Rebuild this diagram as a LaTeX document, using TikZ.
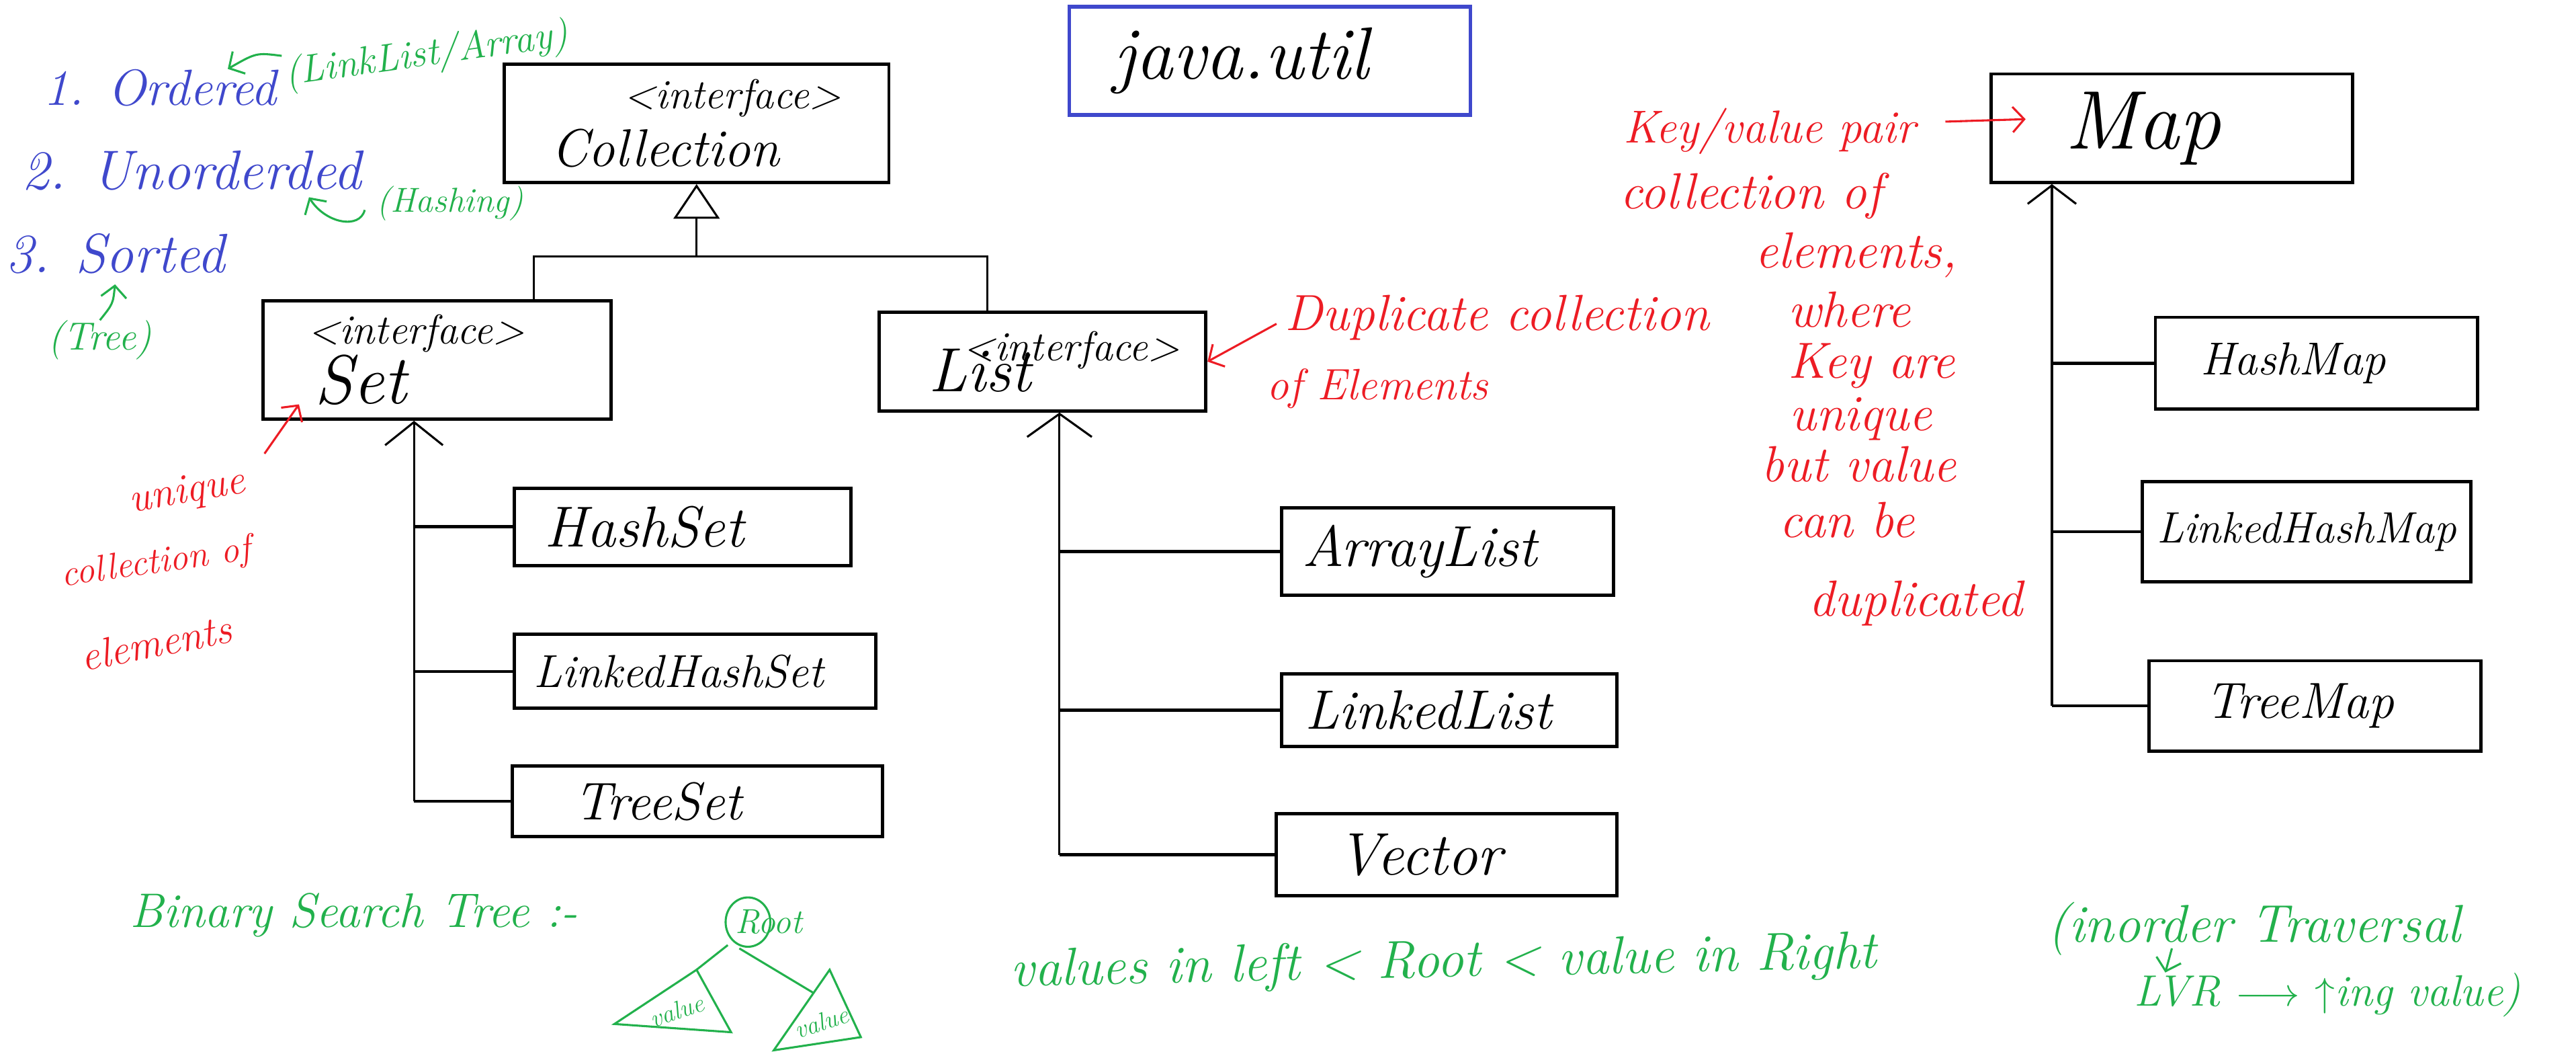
\documentclass[tikz,border=0pt]{standalone}
\usetikzlibrary{arrows.meta}
\definecolor{inkblue}{HTML}{3F48CC}
\definecolor{inkgreen}{HTML}{22B14C}
\definecolor{inkred}{HTML}{ED1C24}
\newcommand{\hw}[1]{\fontsize{#1}{#1}\selectfont\itshape}
\begin{document}
\begin{tikzpicture}[x=0.025cm, y=-0.025cm,
  box/.style={draw, line width=1.4pt, inner sep=0pt, align=center, font=\hw{23}},
  inherit/.style={line width=0.9pt, -{Triangle[open, length=15pt, width=20pt]}},
  rail/.style={line width=0.9pt},
  stub/.style={line width=1.3pt},
  note/.style={line width=0.9pt, -{Straight Barb[length=5pt, width=11pt]}},
  gtree/.style={inkgreen, line width=0.9pt},
  txt/.style={inner sep=0pt, anchor=base west}]
\useasboundingbox (0,0) rectangle (1568,641);

\node  (14)[box, draw=inkblue, line width=1.6pt, minimum width=6.1cm, minimum height=1.65cm, font=\hw{32}] at (773,37) {java.util\hspace*{25pt}};
\node  (1)[box, minimum width=5.85cm, minimum height=1.8cm] at (424,75) {{\hw{18}\hspace*{31pt}<interface>}\\[2pt] Collection\hspace*{27pt}};
\node  (2)[box, minimum width=5.3cm, minimum height=1.8cm, font=\hw{30}] at (266,219) {{\hw{18}<interface>\hspace*{18pt}}\\[-4pt] Set\hspace*{66pt}};
\node  (3)[box, minimum width=4.975cm, minimum height=1.5cm, font=\hw{27}] at (634.5,220) {{\hw{18}\hspace*{25pt}<interface>}\\[-13.5pt] List\hspace*{54pt}};
\node  (4)[box, minimum width=5.5cm, minimum height=1.65cm, font=\hw{36}] at (1322,78) {Map\hspace*{25pt}};
\node  (5)[box, minimum width=5.125cm, minimum height=1.175cm, font=\hw{25}] at (415.5,320.5) {HashSet\hspace*{33pt}};
\node  (6)[box, minimum width=5.5cm, minimum height=1.125cm, font=\hw{20}] at (423,408.5) {LinkedHashSet\hspace*{14pt}};
\node  (7)[box, minimum width=5.625cm, minimum height=1.075cm] at (424.5,487.5) {TreeSet\hspace*{34pt}};
\node  (8)[box, minimum width=5.05cm, minimum height=1.325cm, font=\hw{25}] at (881,335.5) {ArrayList\hspace*{24pt}};
\node  (9)[box, minimum width=5.1cm, minimum height=1.1cm, font=\hw{24}] at (882,432) {LinkedList\hspace*{18pt}};
\node  (10)[box, minimum width=5.175cm, minimum height=1.25cm, font=\hw{26}] at (880.5,520) {Vector\hspace*{23pt}};
\node  (11)[box, minimum width=4.9cm, minimum height=1.4cm, font=\hw{20}] at (1410,221) {HashMap\hspace*{20pt}};
\node  (12)[box, minimum width=5cm, minimum height=1.525cm, font=\hw{19}] at (1404,323.5) {LinkedHashMap};
\node  (13)[box, minimum width=5.05cm, minimum height=1.375cm, font=\hw{22}] at (1409,429.5) {TreeMap\hspace*{13pt}};

\coordinate (fork) at ([yshift=-1.1cm]1.south);
\draw[inherit] (fork) -- (1.south);
\draw[rail] ([xshift=1.475cm]2.north) |- (fork) -| ([xshift=-0.84cm]3.north);

\coordinate (sr) at ([xshift=-0.35cm]2.south);
\draw[rail, -{Straight Barb[length=10pt, width=25pt]}] (sr |- 7.west) -- (sr);
\draw[stub] (sr |- 5.west) -- (5.west);
\draw[stub] (sr |- 6.west) -- (6.west);
\draw[stub] (sr |- 7.west) -- (7.west);

\coordinate (lr) at ([xshift=0.26cm]3.south);
\draw[rail, -{Straight Barb[length=10pt, width=28pt]}] (lr |- 10.west) -- (lr);
\draw[stub] (lr |- 8.west) -- (8.west);
\draw[stub] (lr |- 9.west) -- (9.west);
\draw[stub] (lr |- 10.west) -- (10.west);

\coordinate (mr) at ([xshift=-1.825cm]4.south);
\draw[rail, -{Straight Barb[length=8pt, width=21pt]}] (mr |- 13.west) -- (mr);
\draw[stub] (mr |- 11.west) -- (11.west);
\draw[stub] (mr |- 12.west) -- (12.west);
\draw[stub] (mr |- 13.west) -- (13.west);

\node  (o1)[txt, font=\hw{22}, text=inkblue] at (26,64) {1. Ordered};
\node  (o2)[txt, font=\hw{24}, text=inkblue] at (13,115) {2. Unorderded};
\node  (o3)[txt, font=\hw{24}, text=inkblue] at (3,166) {3. Sorted};
\node  (g1)[txt, font=\hw{17}, text=inkgreen, rotate=8] at (174,52) {(LinkList/Array)};
\node  (g2)[txt, font=\hw{15}, text=inkgreen] at (229,129) {(Hashing)};
\node  (g3)[txt, font=\hw{17}, text=inkgreen] at (29,213) {(Tree)};
\draw[note, inkgreen] (g1.north west) .. controls (156,32) .. ([xshift=-0.75cm]o1.north east);
\draw[note, inkgreen] ([shift={(-7,4)}]g2.west) .. controls +(-3,12) and +(10,16) .. ([xshift=-0.8cm, yshift=-0.1cm]o2.south east);
\draw[note, inkgreen] (g3.north) .. controls +(8,-10) .. ([yshift=-0.15cm]o3.south);

\node  (u1)[font=\hw{18}, text=inkred, rotate=10, inner sep=0pt] at (114,300) {unique};
\node  (u2)[font=\hw{16}, text=inkred, rotate=8, inner sep=0pt] at (95,343) {collection of};
\node  (u3)[font=\hw{18}, text=inkred, rotate=11, inner sep=0pt] at (95,391) {elements};
\draw[note, inkred] ([shift={(47,-24)}]u1.center) -- ([shift={(23,-10)}]2.south west);

\node  (d1)[txt, font=\hw{22}, text=inkred] at (782,201) {Duplicate collection};
\node  (d2)[txt, font=\hw{19}, text=inkred] at (771,243) {of Elements};
\draw[note, inkred] ([shift={(-5,-4)}]d1.base west) -- (3.east);

\node  (k1)[txt, font=\hw{20}, text=inkred] at (988,87) {Key/value pair};
\node  (k2)[txt, font=\hw{22}, text=inkred] at (986,127) {collection of};
\node  (k3)[txt, font=\hw{22}, text=inkred] at (1068,163) {elements,};
\node  (k4)[txt, font=\hw{22}, text=inkred] at (1088,199) {where};
\node  (k5)[txt, font=\hw{22}, text=inkred] at (1088,230) {Key are};
\node  (k6)[txt, font=\hw{22}, text=inkred] at (1089,262) {unique};
\node  (k7)[txt, font=\hw{22}, text=inkred] at (1072,293) {but value};
\node  (k8)[txt, font=\hw{22}, text=inkred] at (1083,327) {can be};
\node  (k9)[txt, font=\hw{22}, text=inkred] at (1101,375) {duplicated};
\draw[note, inkred] ([shift={(18,-13)}]k1.base east) -- ([shift={(22,-5.5)}]4.west);

\node  (b1)[txt, font=\hw{21}, text=inkgreen] at (79,564) {Binary Search Tree :-};
\node  (rt)[font=\hw{15}, text=inkgreen, inner sep=0pt] at (468,561) {Root};
\draw[gtree] ([xshift=0.2cm]rt.west) ellipse [x radius=0.34cm, y radius=0.375cm];
\coordinate (lv) at (424,590);
\coordinate (rv) at (505,590);
\coordinate (rb) at (495,604);
\draw[gtree] (lv) -- (374,623) -- (445,628) -- cycle;
\draw[gtree] (rv) -- (471,639) -- (524,631) -- cycle;
\draw[gtree] ([shift={(-25,14)}]rt.center) -- (lv);
\draw[gtree] ([shift={(-18,16)}]rt.center) -- (rb);
\node  (lval)[font=\hw{11}, text=inkgreen, rotate=19, inner sep=0pt] at (412,615) {value};
\node  (rval)[font=\hw{11}, text=inkgreen, rotate=18, inner sep=0pt] at (500,622) {value};

\node  (b2)[txt, font=\hw{23}, text=inkgreen, rotate=1.2] at (615,600) {values in left < Root < value in Right};
\node  (b3)[txt, font=\hw{23}, text=inkgreen] at (1246,573) {(inorder Traversal};
\node  (b4)[txt, font=\hw{19}, text=inkgreen] at (1299,612) {LVR $\longrightarrow$ $\uparrow$ing value)};
\draw[note, inkgreen] ([xshift=1.9cm, yshift=-0.1cm]b3.base west) -- ([xshift=0.475cm]b4.north west);
\end{tikzpicture}
\end{document}
